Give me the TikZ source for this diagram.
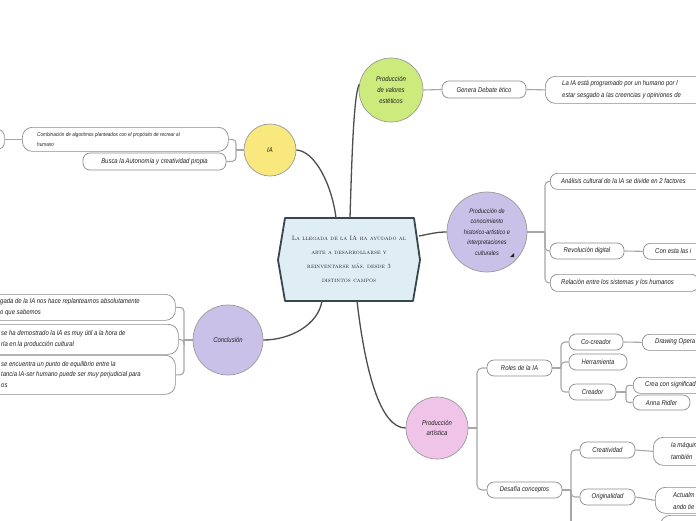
\documentclass[tikz,border=0pt]{standalone}
\usepackage{fontspec}
\newfontfamily\hand[FakeStretch=0.85]{Liberation Sans}
\definecolor{boxc}{HTML}{8C8C8C}
\definecolor{subc}{HTML}{A6A6A6}
\definecolor{mainc}{HTML}{4D4D4D}
\definecolor{txtc}{HTML}{222222}
\definecolor{circc}{HTML}{9A9A9A}
\definecolor{cyel}{HTML}{F8E87E}
\definecolor{cgrn}{HTML}{CDEB7C}
\definecolor{cpur}{HTML}{C9C1E8}
\definecolor{cpnk}{HTML}{F0C4E8}
\definecolor{cfill}{HTML}{DFEEF5}
\definecolor{cbord}{HTML}{3A464E}
\begin{document}
\begin{tikzpicture}[x=1pt,y=-1pt,
  box/.style={draw=boxc, fill=white, line width=0.7pt, rounded corners=7pt, inner sep=0pt,
    font=\hand\itshape\fontsize{7}{11}\selectfont, text=txtc},
  mbox/.style={box, rounded corners=10pt},
  txt/.style={font=\hand\itshape\fontsize{7}{11}\selectfont, inner sep=0pt, text=txtc, align=left},
  sub/.style={draw=subc, line width=1.1pt},
  main/.style={draw=mainc, line width=1.3pt},
  topic/.style={circle, draw=circc, line width=0.7pt, inner sep=0pt, text=txtc,
    font=\hand\itshape\fontsize{7}{11}\selectfont, align=center},
]
\useasboundingbox (0,0) rectangle (696,520);
\fill[white] (0,0) rectangle (696,520);
\clip (0,0) rectangle (696,520);

% ---------- central node ----------
\filldraw[fill=cfill, draw=cbord, line width=1.8pt, line join=round]
  (285,218) -- (414,218) -- (420,260) -- (413,301) -- (285,301) -- (278,260) -- cycle;
\node[font=\fontsize{6.3}{14}\selectfont\scshape, align=center, text=txtc, inner sep=0pt] (ctr) at (349,259)
  {La llegada de la IA ha ayudado al\\arte a desarrollarse y\\reinventarse más, desde 3\\distintos campos};
\coordinate (cIA) at (336,218);
\coordinate (cGR) at (350,218);
\coordinate (cPU) at (419,236);
\coordinate (cCO) at (322,301);
\coordinate (cPA) at (357,301);

% ---------- topics ----------
\node[topic, fill=cyel, minimum size=52] (ia) at (270,150) {IA};
\node[topic, fill=cgrn, minimum size=64, font=\hand\itshape\fontsize{7}{11}\selectfont] (gr) at (391,90) {Producción\\de valores\\estéticos};
\node[topic, fill=cpur, minimum size=80, font=\hand\itshape\fontsize{6.5}{10.5}\selectfont] (pu) at (487,232)
  {Producción de\\conocimiento\\historico-artistico e\\interpretaciones\\culturales};
\fill[txtc] (510,257) -- (514,257) -- (514,253) -- cycle;
\node[topic, fill=cpur, minimum size=70] (co) at (228,340) {Conclusión};
\node[topic, fill=cpnk, minimum size=62, font=\hand\itshape\fontsize{7}{10.5}\selectfont] (pk) at (437,428) {Producción\\artística};

% main connectors
\draw[main] (ia.east) .. controls (315,151) and (332,185) .. (cIA);
\draw[main] (cGR) .. controls (352,150) and (354,95) .. (gr.170);
\draw[main] (cPU) .. controls (430,234) and (436,232) .. (pu.west);
\draw[main] (co.east) .. controls (290,340) and (318,325) .. (cCO);
\draw[main] (cPA) .. controls (365,370) and (380,428) .. (pk.west);

% ---------- IA branch ----------
\node[mbox, anchor=north west, minimum width=206, minimum height=24] (n1) at (22,127) {};
\node[txt, anchor=west, font=\hand\itshape\fontsize{5.5}{10}\selectfont] (n1t) at (37,139)
  {Combinación de algoritmos planteados con el propósito de recrear al\\humano};
\node[box, minimum width=143, minimum height=17] (n2) at (154.5,161.5) {Busca la Autonomía y creatividad propia};
\node[box, anchor=north west, minimum width=74, minimum height=20] (far) at (-70,129) {};
\coordinate (jIA) at (236,150);
\draw[sub] (ia.west) -- (jIA);
\draw[sub, rounded corners=4] (jIA) |- (n1.east);
\draw[sub, rounded corners=4] (jIA) |- (n2.east);
\draw[sub] (far.east) -- (n1.west);

% ---------- green branch ----------
\node[box, minimum width=84, minimum height=17] (gen) at (484,89.5) {Genera Debate ético};
\node[mbox, anchor=north west, minimum width=260, minimum height=27] (prog) at (545,76) {};
\node[txt, anchor=west, font=\hand\itshape\fontsize{7}{12}\selectfont] (progt) at (562,89.5)
  {La IA está programado por un humano por l\\estar sesgado a las creencias y opiniones de};
\draw[sub] (gr.east) -- (gen.west);
\draw[sub] (gen.east) -- (prog.west);

% ---------- purple branch ----------
\node[box, anchor=north west, minimum width=250, minimum height=16] (ana) at (550,173) {};
\node[txt, anchor=west] (anat) at (561,181) {Análisis cultural de la IA se divide en 2 factores};
\node[box, minimum width=74, minimum height=16] (rev) at (587,251) {Revolución digital};
\node[box, anchor=north west, minimum width=150, minimum height=16] (con) at (643,243) {};
\node[txt, anchor=west] (cont) at (655,251) {Con esta las i};
\node[box, anchor=north west, minimum width=148, minimum height=17] (rel) at (550,274) {};
\node[txt, anchor=west] (relt) at (561,282.5) {Relación entre los sistemas y los humanos};
\coordinate (jPU) at (545,232);
\draw[sub] (pu.east) -- (jPU);
\draw[sub, rounded corners=4] (jPU) |- (ana.west);
\draw[sub, rounded corners=4] (jPU) |- (rev.west);
\draw[sub, rounded corners=4] (jPU) |- (rel.west);
\draw[sub] (rev.east) -- (con.west);

% ---------- conclusion branch ----------
\node[mbox, anchor=north west, minimum width=215, minimum height=26] (cA) at (-40,294) {};
\node[txt, anchor=west] (cAt) at (0,307.5) {gada de la IA nos hace replantearnos absolutamente\\o que sabemos};
\node[mbox, anchor=north west, minimum width=218, minimum height=30] (cB) at (-40,324) {};
\node[txt, anchor=west] (cBt) at (1,339.5) {se ha demostrado la IA es muy útil a la hora de\\rla en la producción cultural};
\node[mbox, anchor=north west, minimum width=215, minimum height=39] (cC) at (-40,355) {};
\node[txt, anchor=west, font=\hand\itshape\fontsize{7}{10.5}\selectfont] (cCt) at (1,374)
  {se encuentra un punto de equilibrio entre la\\tancia IA-ser humano puede ser muy perjudicial para\\os};
\coordinate (jCO) at (184,340);
\draw[sub] (co.west) -- (jCO);
\draw[sub, rounded corners=4] (jCO) |- (cA.east);
\draw[sub, rounded corners=4] (jCO) |- (cB.east);
\draw[sub, rounded corners=4] (jCO) |- (cC.east);

% ---------- pink branch ----------
\node[box, minimum width=65, minimum height=16] (roles) at (519.5,368) {Roles de la IA};
\node[box, minimum width=54, minimum height=16] (coc) at (596,342) {Co-creador};
\node[box, minimum width=58, minimum height=16] (herr) at (598,362) {Herramienta};
\node[box, minimum width=47, minimum height=16] (crea) at (592.5,392) {Creador};
\node[box, anchor=north west, minimum width=150, minimum height=16] (drw) at (642,334) {};
\node[txt, anchor=west] (drwt) at (655,342) {Drawing Opera};
\node[box, anchor=north west, minimum width=150, minimum height=16] (crs) at (633,377) {};
\node[txt, anchor=west] (crst) at (645,385) {Crea con significado};
\node[box, minimum width=57, minimum height=15] (anna) at (661.5,402.5) {Anna Ridler};
\node[box, minimum width=75, minimum height=16] (des) at (524.5,490) {Desafía conceptos};
\node[box, minimum width=55, minimum height=16] (crt) at (607.5,450) {Creatividad};
\node[mbox, anchor=north west, minimum width=150, minimum height=28] (maq) at (653,437) {};
\node[txt, anchor=west, font=\hand\itshape\fontsize{7}{12}\selectfont] (maqt) at (671,450.5) {la máquina\\también};
\node[box, minimum width=55, minimum height=16] (ori) at (607.5,497) {Originalidad};
\node[mbox, anchor=north west, minimum width=150, minimum height=26] (act) at (655,487) {};
\node[txt, anchor=west, font=\hand\itshape\fontsize{7}{12}\selectfont] (actt) at (673,501) {Actualm\\ando tie};
\node[mbox, anchor=north west, minimum width=150, minimum height=26] (bot) at (660,515) {};
\coordinate (jPK) at (477,428);
\coordinate (jRO) at (561,368);
\coordinate (jCR) at (626,392);
\coordinate (jDE) at (571,490);
\coordinate (dEnd) at (571,535);
\draw[sub] (pk.east) -- (jPK);
\draw[sub, rounded corners=5] (jPK) |- (roles.west);
\draw[sub, rounded corners=5] (jPK) |- (des.west);
\draw[sub] (roles.east) -- (jRO);
\draw[sub, rounded corners=4] (jRO) |- (coc.west);
\draw[sub, rounded corners=4] (jRO) |- (herr.west);
\draw[sub, rounded corners=4] (jRO) |- (crea.west);
\draw[sub] (coc.east) -- (drw.west);
\draw[sub] (crea.east) -- (jCR);
\draw[sub, rounded corners=3] (jCR) |- (crs.west);
\draw[sub, rounded corners=3] (jCR) |- (anna.west);
\draw[sub] (des.east) -- (jDE);
\draw[sub, rounded corners=4] (jDE) |- (crt.west);
\draw[sub, rounded corners=4] (jDE) |- (ori.west);
\draw[sub] (jDE) -- (dEnd);
\draw[sub] (crt.east) -- (maq.west);
\draw[sub] (ori.east) -- (act.west);
\end{tikzpicture}
\end{document}
